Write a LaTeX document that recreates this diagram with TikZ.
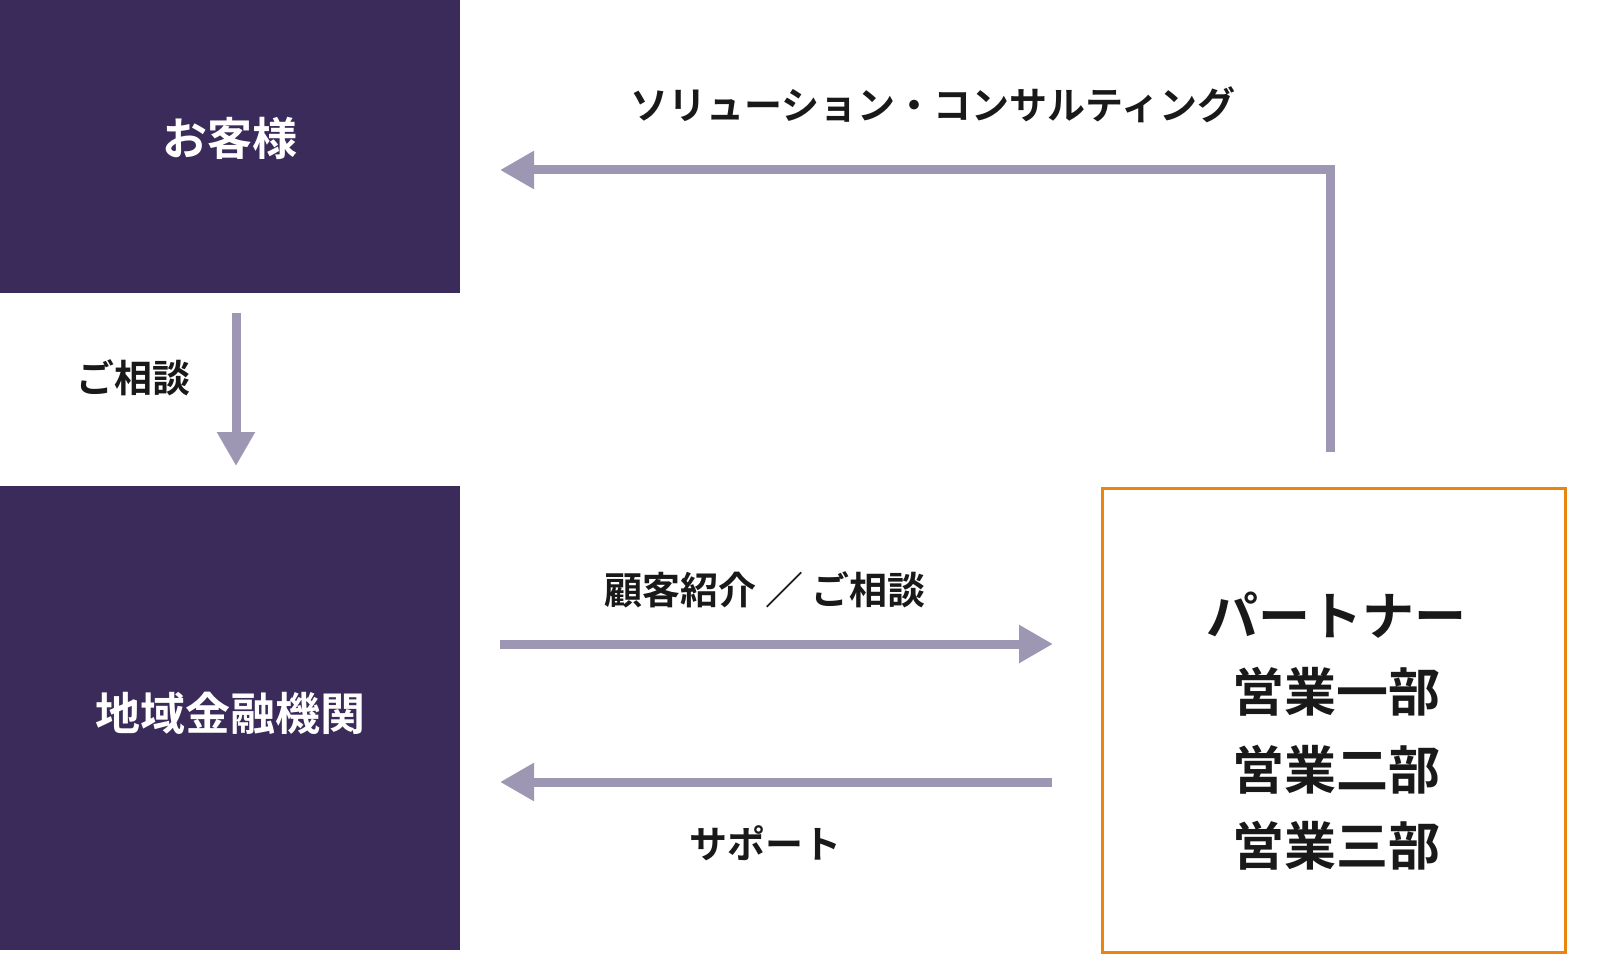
\documentclass[tikz,border=0pt]{standalone}
\usepackage{fontspec}
\newfontfamily\cjk{Noto Sans CJK JP}[BoldFont={* Bold}]
\usetikzlibrary{arrows.meta}
\definecolor{dark}{HTML}{3B2B5A}
\definecolor{arr}{HTML}{9E97B3}
\definecolor{org}{HTML}{E8860F}
\tikzset{
 box/.style={fill=dark,draw=none},
 lab/.style={font=\cjk\bfseries\fontsize{38}{44}\selectfont,text=black!90,inner sep=0},
 wlab/.style={font=\cjk\bfseries\fontsize{45}{50}\selectfont,text=white,inner sep=0},
 plab/.style={font=\cjk\bfseries\fontsize{52}{58}\selectfont,text=black!90,inner sep=0},
 flow/.style={draw=arr,line width=9pt,-{Triangle[length=34pt,width=36pt]}},
}
\begin{document}
\begin{tikzpicture}[x=1pt,y=-1pt]
\useasboundingbox (0,0) rectangle (1600,973);
\fill[box] (0,0) rectangle (460,293);
\fill[box] (0,486) rectangle (460,950);
\draw[org,line width=3pt] (1102,488) rectangle (1565,952);
\node[wlab] (c) at (230,138) {お客様};
\node[wlab] (b) at (230,713) {地域金融機関};
\node[plab] (p1) at (1336,615) {パートナー};
\node[plab] (p2) at (1336,692) {営業一部};
\node[plab] (p3) at (1336,770) {営業二部};
\node[plab] (p4) at (1336,846) {営業三部};
\node[lab] (l1) at (933,105) {ソリューション・コンサルティング};
\node[lab] (l2) at (133,378) {ご相談};
\node[lab] (l3) at (765,590) {顧客紹介 ／ ご相談};
\node[lab] (l4) at (765,843) {サポート};
\coordinate (a1s) at (1330,452);
\coordinate (a1m) at (1330,170);
\coordinate (a1e) at (500,170);
\draw[flow] (a1s) -- (a1m) -- (a1e);
\coordinate (a2s) at (236,313);
\coordinate (a2e) at (236,466);
\draw[flow] (a2s) -- (a2e);
\coordinate (a3s) at (500,644);
\coordinate (a3e) at (1053,644);
\draw[flow] (a3s) -- (a3e);
\coordinate (a4s) at (1052,782);
\coordinate (a4e) at (500,782);
\draw[flow] (a4s) -- (a4e);
\end{tikzpicture}
\end{document}
